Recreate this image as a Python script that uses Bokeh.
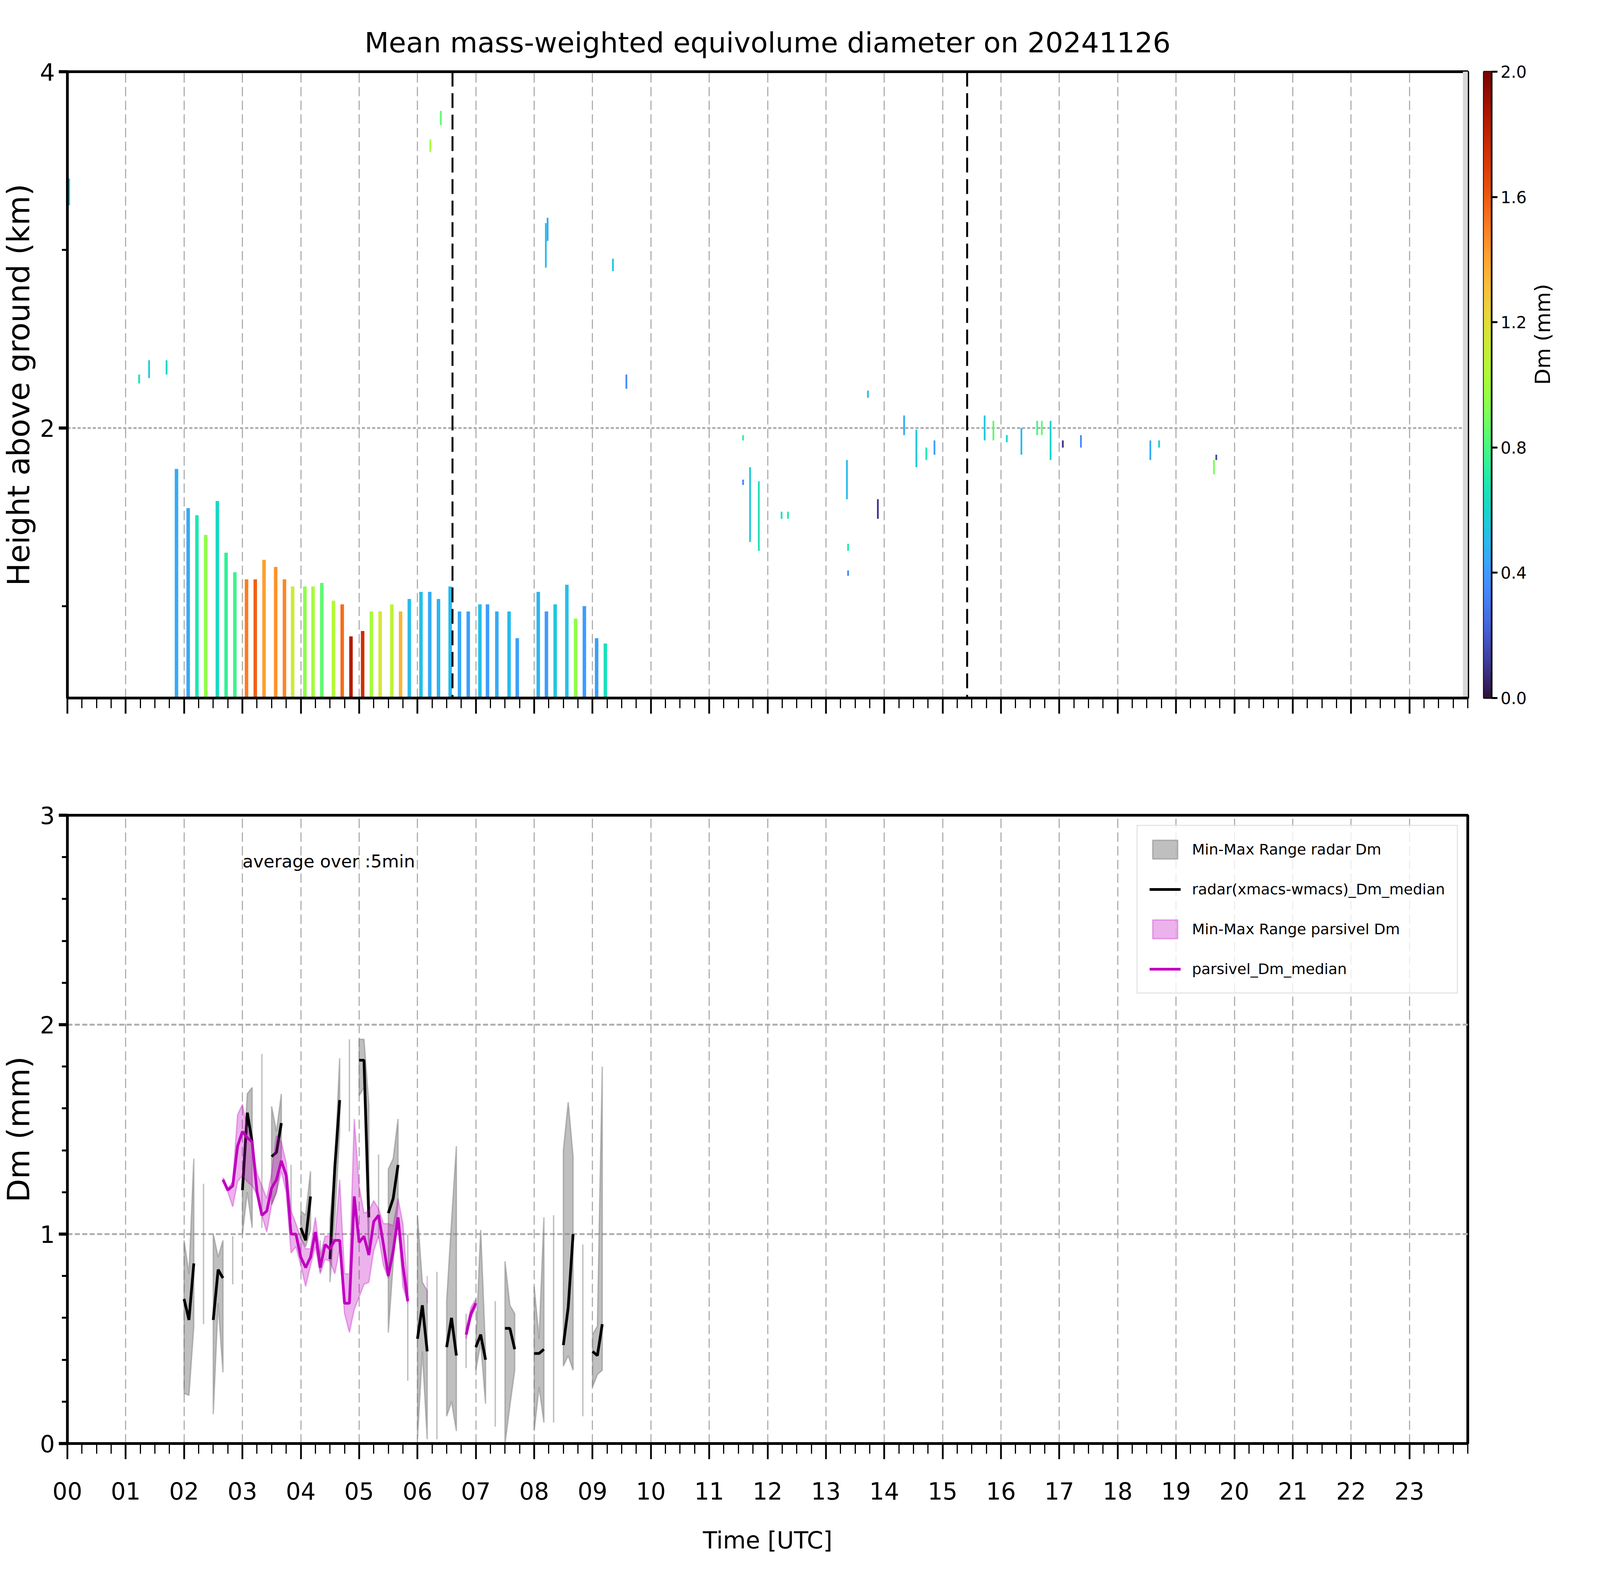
import math
import numpy as np
from bokeh.plotting import figure
from bokeh.layouts import column, row
from bokeh.models import (FixedTicker, LinearColorMapper, Span, Label, Legend,
                          LegendItem, PrintfTickFormatter)
from bokeh.palettes import Turbo256
from bokeh.transform import transform
from bokeh.embed import file_html
from bokeh.resources import INLINE

FONT = "DejaVu Sans"
NAN = float("nan")

# ---- top panel: radar Dm columns (hour, echo top in km, Dm in mm)
bar_hour = [1.87, 2.07, 2.22, 2.37, 2.57, 2.72, 2.87, 3.07, 3.22, 3.37, 3.57, 3.72,
            3.86, 4.07, 4.21, 4.36, 4.56, 4.71, 4.86, 5.06, 5.21, 5.36, 5.56, 5.71,
            5.86, 6.06, 6.21, 6.36, 6.56, 6.72, 6.87, 7.07, 7.20, 7.36, 7.57, 7.71,
            8.07, 8.21, 8.36, 8.56, 8.71, 8.86, 9.07, 9.22]
bar_top = [1.77, 1.55, 1.51, 1.40, 1.59, 1.30, 1.19, 1.15, 1.15, 1.26, 1.22, 1.15,
           1.11, 1.11, 1.11, 1.13, 1.03, 1.01, 0.83, 0.86, 0.97, 0.97, 1.01, 0.97,
           1.04, 1.08, 1.08, 1.04, 1.11, 0.97, 0.97, 1.01, 1.01, 0.97, 0.97, 0.82,
           1.08, 0.97, 1.01, 1.12, 0.93, 1.00, 0.82, 0.79]
bar_dm = [0.45, 0.45, 0.68, 0.95, 0.62, 0.75, 0.78, 1.50, 1.58, 1.42, 1.45, 1.48,
          1.12, 0.95, 1.00, 0.85, 1.05, 1.55, 1.85, 1.75, 1.00, 1.15, 1.08, 1.35,
          0.50, 0.52, 0.45, 0.48, 0.50, 0.45, 0.42, 0.52, 0.40, 0.45, 0.50, 0.42,
          0.48, 0.40, 0.55, 0.52, 0.95, 0.40, 0.42, 0.65]

# scattered echoes aloft (hour, bottom km, top km, Dm)
speck_hour = [0.03, 1.23, 1.40, 1.70, 6.22, 6.40, 8.20, 8.23, 9.35, 9.58, 11.58, 11.58,
              11.70, 11.85, 12.24, 12.35, 13.36, 13.38, 13.38, 13.72, 13.89, 14.34, 14.55,
              14.72, 14.86, 15.72, 15.87, 16.10, 16.35, 16.62, 16.70, 16.85, 17.06, 17.37,
              18.56, 18.71, 19.65, 19.69]
speck_lo = [3.25, 2.25, 2.28, 2.30, 3.55, 3.70, 2.90, 3.05, 2.88, 2.22, 1.93, 1.68,
            1.36, 1.31, 1.49, 1.49, 1.60, 1.31, 1.17, 2.17, 1.49, 1.96, 1.78,
            1.82, 1.85, 1.93, 1.93, 1.92, 1.85, 1.96, 1.96, 1.82, 1.89, 1.89,
            1.82, 1.89, 1.74, 1.82]
speck_hi = [3.40, 2.30, 2.38, 2.38, 3.62, 3.78, 3.15, 3.18, 2.95, 2.30, 1.96, 1.71,
            1.78, 1.70, 1.53, 1.53, 1.82, 1.35, 1.20, 2.21, 1.60, 2.07, 1.99,
            1.89, 1.93, 2.07, 2.04, 1.96, 2.00, 2.04, 2.04, 2.04, 1.93, 1.96,
            1.93, 1.93, 1.82, 1.85]
speck_dm = [0.55, 0.65, 0.55, 0.60, 1.00, 0.85, 0.50, 0.45, 0.55, 0.35, 0.75, 0.35,
            0.55, 0.65, 0.65, 0.70, 0.50, 0.70, 0.35, 0.50, 0.10, 0.45, 0.55,
            0.70, 0.40, 0.55, 0.85, 0.60, 0.50, 0.80, 0.85, 0.60, 0.10, 0.35,
            0.45, 0.55, 0.90, 0.15]

marker_hours = [6.6, 15.42]
nodata_start = 23.92

# ---- bottom panel: 5-min statistics (minute of day)
radar_minute = [120, 125, 130, 140, 150, 155, 160, 170, 180, 185, 190, 200, 210, 215, 220,
                230, 240, 245, 250, 260, 270, 275, 280, 290, 300, 305, 310, 320, 330, 335,
                340, 350, 360, 365, 370, 380, 390, 395, 400, 410, 420, 425, 430, 440, 450,
                455, 460, 480, 485, 490, 500, 510, 515, 520, 530, 540, 545, 550]
radar_med = [0.69, 0.59, 0.86, NAN, 0.59, 0.83, 0.79, NAN, 1.21, 1.58, 1.44, NAN, 1.37, 1.39, 1.53,
             NAN, 1.03, 0.97, 1.18, NAN, 0.88, 1.32, 1.64, NAN, 1.83, 1.83, 1.08, NAN, 1.10, 1.17,
             1.33, NAN, 0.50, 0.66, 0.44, NAN, 0.46, 0.60, 0.42, NAN, 0.46, 0.52, 0.40, NAN, 0.55,
             0.55, 0.45, 0.43, 0.43, 0.45, NAN, 0.47, 0.65, 1.00, NAN, 0.44, 0.42, 0.57]
radar_lo = [0.24, 0.23, 0.56, 0.57, 0.14, 0.67, 0.34, 0.76, 1.00, 1.20, 1.03, 1.03, 1.14, 1.20, 1.36,
            1.07, 0.98, 0.94, 1.02, 0.82, 0.77, 1.07, 1.49, 1.49, 1.66, 1.70, 0.90, 0.98, 0.53, 0.86,
            1.15, 0.30, 0.02, 0.44, 0.02, 0.02, 0.13, 0.20, 0.06, 0.36, 0.35, 0.48, 0.19, 0.08, 0.00,
            0.18, 0.35, 0.06, 0.27, 0.10, 0.10, 0.37, 0.42, 0.35, 0.13, 0.27, 0.33, 0.35]
radar_hi = [0.97, 0.81, 1.36, 1.24, 1.00, 0.89, 0.97, 0.99, 1.25, 1.67, 1.70, 1.86, 1.61, 1.49, 1.67,
            1.33, 1.11, 1.09, 1.30, 0.97, 1.07, 1.33, 1.84, 1.93, 1.93, 1.93, 1.62, 1.38, 1.31, 1.36,
            1.55, 1.00, 1.09, 0.77, 0.73, 0.82, 0.68, 1.06, 1.42, 0.62, 0.48, 1.02, 0.44, 0.68, 0.87,
            0.66, 0.62, 0.75, 0.50, 1.08, 1.09, 1.40, 1.63, 1.37, 0.95, 0.52, 0.56, 1.80]

parsivel_minute = [160, 165, 170, 175, 180, 185, 190, 195, 200, 205, 210, 215, 220, 225, 230,
                   235, 240, 245, 250, 255, 260, 265, 270, 275, 280, 285, 290, 295, 300, 305,
                   310, 315, 320, 325, 330, 335, 340, 345, 350, 370, 410, 415, 420]
parsivel_med = [1.26, 1.21, 1.23, 1.42, 1.49, 1.46, 1.44, 1.20, 1.09, 1.11, 1.22, 1.26, 1.35, 1.28, 1.00,
                1.00, 0.89, 0.84, 0.89, 1.01, 0.84, 0.95, 0.93, 0.97, 0.97, 0.67, 0.67, 1.18, 0.96, 0.99,
                0.90, 1.06, 1.09, 0.95, 0.80, 0.92, 1.08, 0.85, 0.68, NAN, 0.52, 0.62, 0.67]
parsivel_lo = [1.25, 1.20, 1.13, 1.25, 1.28, 1.25, 1.23, 1.19, 1.09, 1.01, 1.14, 1.20, 1.30, 1.20, 0.91,
               0.94, 0.85, 0.75, 0.85, 0.94, 0.81, 0.88, 0.87, 0.81, 0.93, 0.62, 0.53, 0.64, 0.70, 0.76,
               0.77, 0.92, 0.99, 0.85, 0.79, 0.90, 1.05, 0.75, 0.67, 0.67, 0.50, 0.60, 0.65]
parsivel_hi = [1.27, 1.22, 1.25, 1.57, 1.62, 1.50, 1.44, 1.29, 1.23, 1.17, 1.29, 1.47, 1.44, 1.34, 1.11,
               1.05, 0.98, 0.93, 0.93, 1.08, 0.90, 0.99, 0.99, 0.97, 1.26, 0.81, 0.81, 1.55, 1.23, 1.10,
               1.11, 1.16, 1.12, 1.05, 1.05, 1.04, 1.17, 1.05, 0.74, 0.80, 0.55, 0.65, 0.69]

hour_labels = {h: "%02d" % h for h in range(24)}


def runs(minutes):
    # split into consecutive 5-min runs
    out, cur = [], []
    for i, m in enumerate(minutes):
        if cur and m - minutes[cur[-1]] != 5:
            out.append(cur)
            cur = []
        cur.append(i)
    out.append(cur)
    return out


def band(minutes, lo, hi):
    xs, ys = [], []
    for r in runs(minutes):
        t = [minutes[i] / 60 for i in r]
        xs.append(t + t[::-1])
        ys.append([hi[i] for i in r] + [lo[i] for i in r][::-1])
    return xs, ys


def medline(minutes, med):
    xs, ys = [], []
    for r in runs(minutes):
        if len(r) > 1:
            xs.append([minutes[i] / 60 for i in r])
            ys.append([med[i] for i in r])
    return xs, ys


def style(p):
    p.outline_line_color = "black"
    p.outline_line_width = 7
    p.background_fill_color = "white"
    p.border_fill_color = "white"
    for ax in p.axis:
        ax.axis_line_width = 7
        ax.major_tick_in = 0
        ax.minor_tick_in = 0
        ax.major_label_text_font = FONT
        ax.major_label_text_font_size = "60px"
        ax.major_label_text_color = "black"
        ax.axis_label_text_font = FONT
        ax.axis_label_text_font_style = "normal"
        ax.axis_label_text_color = "black"
    p.xaxis.major_tick_out = 40
    p.xaxis.minor_tick_out = 26
    p.xaxis.major_tick_line_width = 4.5
    p.xaxis.minor_tick_line_width = 3
    p.xaxis.major_label_standoff = 58
    p.xaxis.axis_label_standoff = 66
    p.xaxis.axis_label_text_font_size = "60px"
    p.yaxis.major_tick_out = 22
    p.yaxis.minor_tick_out = 14
    p.yaxis.major_tick_line_width = 8
    p.yaxis.minor_tick_line_width = 5
    p.yaxis.major_label_standoff = 10
    p.yaxis.axis_label_standoff = 6
    p.yaxis.axis_label_text_font_size = "78px"
    p.xaxis.ticker = FixedTicker(ticks=list(range(24)), minor_ticks=[i / 4 for i in range(97)])
    p.xgrid.grid_line_width = 3
    p.xgrid.grid_line_dash = "24 11"
    p.ygrid.grid_line_width = 5
    p.ygrid.grid_line_dash = "13 6"
    for g in p.grid:
        g.grid_line_color = "#b0b0b0"


cmap = LinearColorMapper(palette=Turbo256, low=0, high=2)
y0 = 0.484
TOP_W, CB_W = 3782, 233
TOP_H = 1886

# ---- top panel
top = figure(width=TOP_W, height=TOP_H, x_range=(0, 24), y_range=(y0, 4),
             output_backend="svg", toolbar_location=None,
             min_border_left=165, min_border_right=25, min_border_top=183, min_border_bottom=100,
             title="Mean mass-weighted equivolume diameter on 20241126")
top.title.text_font = FONT
top.title.text_font_size = "72px"
top.title.text_font_style = "normal"
top.title.text_color = "black"
top.title.align = "center"
top.title.standoff = 66

src_bars = dict(x=bar_hour, top=bar_top, dm=bar_dm)
top.vbar(x="x", top="top", bottom=y0, width=0.06, source=src_bars,
         fill_color=transform("dm", cmap), line_color=None)
src_specks = dict(x=speck_hour, lo=speck_lo, hi=speck_hi, dm=speck_dm)
top.vbar(x="x", top="hi", bottom="lo", width=0.03, source=src_specks,
         fill_color=transform("dm", cmap), line_color=None)
top.quad(left=[nodata_start], right=[24], bottom=[y0], top=[4], color="#d9d9d9")
for h in marker_hours:
    top.add_layout(Span(location=h, dimension="height", line_color="black",
                        line_width=5, line_dash="38 17"))

style(top)
top.yaxis.ticker = FixedTicker(ticks=[2, 4], minor_ticks=[1, 3])
top.yaxis.axis_label = "Height above ground (km)"
top.xaxis.major_label_overrides = {h: "" for h in range(24)}
top.xaxis.major_label_standoff = 10
top.ygrid.grid_line_dash = "8 5"

# ---- colour bar
cb = figure(width=CB_W, height=TOP_H, x_range=(0, 1), y_range=(0, 2),
            output_backend="svg", toolbar_location=None,
            x_axis_location=None, y_axis_location="right",
            min_border_left=16, min_border_right=155, min_border_top=183, min_border_bottom=100)
edges = np.linspace(0, 2, len(Turbo256) + 1)
cb.quad(left=0, right=1, bottom=edges[:-1], top=edges[1:],
        fill_color=list(Turbo256), line_color=list(Turbo256), line_width=1)
cb.grid.visible = False
cb.outline_line_color = "black"
cb.outline_line_width = 4
cb.yaxis.ticker = FixedTicker(ticks=[0, 0.4, 0.8, 1.2, 1.6, 2.0], minor_ticks=[])
cb.yaxis.formatter = PrintfTickFormatter(format="%.1f")
cb.yaxis.axis_label = "Dm (mm)"
cb.yaxis.axis_label_orientation = math.pi / 2
cb.yaxis.axis_line_width = 4
cb.yaxis.major_tick_line_width = 5
cb.yaxis.major_tick_in = 0
cb.yaxis.major_tick_out = 15
cb.yaxis.major_label_text_font = FONT
cb.yaxis.major_label_text_font_size = "42px"
cb.yaxis.major_label_text_color = "black"
cb.yaxis.major_label_standoff = 8
cb.yaxis.axis_label_text_font = FONT
cb.yaxis.axis_label_text_font_size = "54px"
cb.yaxis.axis_label_text_font_style = "normal"
cb.yaxis.axis_label_text_color = "black"
cb.yaxis.axis_label_standoff = 38

# ---- bottom panel
bot = figure(width=TOP_W + CB_W, height=2128, x_range=(0, 24), y_range=(0, 3),
             output_backend="svg", toolbar_location=None,
             min_border_left=165, min_border_right=25 + CB_W, min_border_top=200,
             min_border_bottom=320)

gx, gy = band(radar_minute, radar_lo, radar_hi)
r_gray = bot.patches(gx, gy, fill_color="gray", fill_alpha=0.5,
                     line_color="gray", line_alpha=0.5, line_width=3.5)
mx, my = medline(radar_minute, radar_med)
r_black = bot.multi_line(mx, my, line_color="black", line_width=7)
px, py = band(parsivel_minute, parsivel_lo, parsivel_hi)
r_pink = bot.patches(px, py, fill_color="#bf00bf", fill_alpha=0.3,
                     line_color="#bf00bf", line_alpha=0.3, line_width=3.5)
qx, qy = medline(parsivel_minute, parsivel_med)
r_mag = bot.multi_line(qx, qy, line_color="#bf00bf", line_width=7)

style(bot)
bot.yaxis.ticker = FixedTicker(ticks=[0, 1, 2, 3], minor_ticks=[i / 5 for i in range(16)])
bot.yaxis.axis_label = "Dm (mm)"
bot.xaxis.axis_label = "Time [UTC]"
bot.xaxis.major_label_overrides = hour_labels

bot.add_layout(Label(x=3.0, y=2.78, text="average over :5min", text_font=FONT,
                     text_font_size="45px", text_color="black",
                     text_baseline="middle", text_align="left"))

legend = Legend(items=[LegendItem(label="Min-Max Range radar Dm", renderers=[r_gray]),
                       LegendItem(label="radar(xmacs-wmacs)_Dm_median", renderers=[r_black]),
                       LegendItem(label="Min-Max Range parsivel Dm", renderers=[r_pink]),
                       LegendItem(label="parsivel_Dm_median", renderers=[r_mag])],
                location="top_right")
legend.label_text_font = FONT
legend.label_text_font_size = "38px"
legend.label_text_color = "black"
legend.glyph_width = 80
legend.glyph_height = 60
legend.label_standoff = 29
legend.spacing = 42
legend.padding = 30
legend.margin = 25
legend.border_line_color = "#cccccc"
legend.border_line_width = 3
legend.background_fill_alpha = 0.8
bot.add_layout(legend)

layout = column(row(top, cb), bot)
open("out.html", "w").write(file_html(layout, INLINE))
